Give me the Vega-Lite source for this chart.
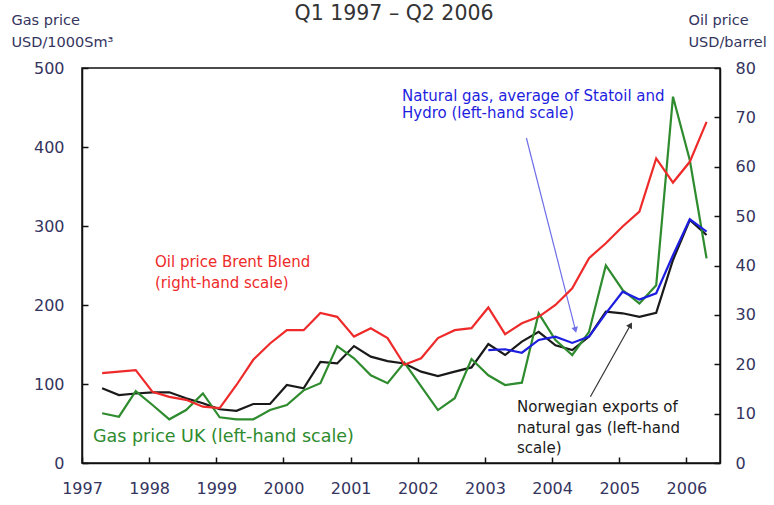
{
  "$schema": "https://vega.github.io/schema/vega-lite/v6.json",
  "width": 638,
  "height": 395,
  "autosize": {"type": "none"},
  "padding": {"left": 82, "top": 68, "right": 54, "bottom": 42},
  "background": "white",
  "config": {
    "view": {"stroke": "#111", "strokeWidth": 1.5},
    "font": "DejaVu Sans",
    "axis": {"labelFont": "DejaVu Sans", "titleFont": "DejaVu Sans", "grid": false}
  },
  "title": {"text": "Q1 1997 – Q2 2006", "fontSize": 20.5, "font": "DejaVu Sans", "fontWeight": "normal", "color": "#333333", "offset": -12, "dx": -7, "anchor": "middle", "frame": "group"},
  "datasets": {
    "lines": [
      {"t":1997.3,"s":"oil","v":18.2},{"t":1997.55,"s":"oil","v":18.5},{"t":1997.8,"s":"oil","v":18.8},{"t":1998.05,"s":"oil","v":14.4},{"t":1998.3,"s":"oil","v":13.4},{"t":1998.55,"s":"oil","v":12.8},{"t":1998.8,"s":"oil","v":11.4},{"t":1999.05,"s":"oil","v":11.1},{"t":1999.3,"s":"oil","v":15.8},{"t":1999.55,"s":"oil","v":20.9},{"t":1999.8,"s":"oil","v":24.2},{"t":2000.05,"s":"oil","v":26.9},{"t":2000.3,"s":"oil","v":26.9},{"t":2000.55,"s":"oil","v":30.4},{"t":2000.8,"s":"oil","v":29.6},{"t":2001.05,"s":"oil","v":25.6},{"t":2001.3,"s":"oil","v":27.3},{"t":2001.55,"s":"oil","v":25.3},{"t":2001.8,"s":"oil","v":19.9},{"t":2002.05,"s":"oil","v":21.2},{"t":2002.3,"s":"oil","v":25.3},{"t":2002.55,"s":"oil","v":26.9},{"t":2002.8,"s":"oil","v":27.3},{"t":2003.05,"s":"oil","v":31.5},{"t":2003.3,"s":"oil","v":26.1},{"t":2003.55,"s":"oil","v":28.3},{"t":2003.8,"s":"oil","v":29.6},{"t":2004.05,"s":"oil","v":32.0},{"t":2004.3,"s":"oil","v":35.4},{"t":2004.55,"s":"oil","v":41.5},{"t":2004.8,"s":"oil","v":44.5},{"t":2005.05,"s":"oil","v":47.9},{"t":2005.3,"s":"oil","v":50.9},{"t":2005.55,"s":"oil","v":61.7},{"t":2005.8,"s":"oil","v":56.8},{"t":2006.05,"s":"oil","v":61.0},{"t":2006.3,"s":"oil","v":69.1},
      {"t":1997.3,"s":"exports","v":94.6},{"t":1997.55,"s":"exports","v":86},{"t":1997.8,"s":"exports","v":88},{"t":1998.05,"s":"exports","v":89.5},{"t":1998.3,"s":"exports","v":89.5},{"t":1998.55,"s":"exports","v":82},{"t":1998.8,"s":"exports","v":75.6},{"t":1999.05,"s":"exports","v":68},{"t":1999.3,"s":"exports","v":66},{"t":1999.55,"s":"exports","v":74.7},{"t":1999.8,"s":"exports","v":74.7},{"t":2000.05,"s":"exports","v":98.7},{"t":2000.3,"s":"exports","v":94.5},{"t":2000.55,"s":"exports","v":128},{"t":2000.8,"s":"exports","v":126},{"t":2001.05,"s":"exports","v":148},{"t":2001.3,"s":"exports","v":134.6},{"t":2001.55,"s":"exports","v":129},{"t":2001.8,"s":"exports","v":126},{"t":2002.05,"s":"exports","v":115.6},{"t":2002.3,"s":"exports","v":110},{"t":2002.55,"s":"exports","v":115.6},{"t":2002.8,"s":"exports","v":121},{"t":2003.05,"s":"exports","v":150.6},{"t":2003.3,"s":"exports","v":136.7},{"t":2003.55,"s":"exports","v":153.6},{"t":2003.8,"s":"exports","v":166},{"t":2004.05,"s":"exports","v":149},{"t":2004.3,"s":"exports","v":143},{"t":2004.55,"s":"exports","v":160},{"t":2004.8,"s":"exports","v":191.5},{"t":2005.05,"s":"exports","v":189.5},{"t":2005.3,"s":"exports","v":185},{"t":2005.55,"s":"exports","v":190},{"t":2005.8,"s":"exports","v":257},{"t":2006.05,"s":"exports","v":307.6},{"t":2006.3,"s":"exports","v":288.6},
      {"t":1997.3,"s":"uk","v":63},{"t":1997.55,"s":"uk","v":58.6},{"t":1997.8,"s":"uk","v":91},{"t":1998.05,"s":"uk","v":73.4},{"t":1998.3,"s":"uk","v":55.3},{"t":1998.55,"s":"uk","v":67},{"t":1998.8,"s":"uk","v":88},{"t":1999.05,"s":"uk","v":57.8},{"t":1999.3,"s":"uk","v":55.3},{"t":1999.55,"s":"uk","v":55.3},{"t":1999.8,"s":"uk","v":67},{"t":2000.05,"s":"uk","v":73.4},{"t":2000.3,"s":"uk","v":92},{"t":2000.55,"s":"uk","v":101},{"t":2000.8,"s":"uk","v":148},{"t":2001.05,"s":"uk","v":132.5},{"t":2001.3,"s":"uk","v":111},{"t":2001.55,"s":"uk","v":101},{"t":2001.8,"s":"uk","v":127},{"t":2002.05,"s":"uk","v":97},{"t":2002.3,"s":"uk","v":67},{"t":2002.55,"s":"uk","v":82},{"t":2002.8,"s":"uk","v":131.6},{"t":2003.05,"s":"uk","v":111},{"t":2003.3,"s":"uk","v":98.7},{"t":2003.55,"s":"uk","v":101.7},{"t":2003.8,"s":"uk","v":189.5},{"t":2004.05,"s":"uk","v":155.7},{"t":2004.3,"s":"uk","v":136.7},{"t":2004.55,"s":"uk","v":166},{"t":2004.8,"s":"uk","v":250},{"t":2005.05,"s":"uk","v":219},{"t":2005.3,"s":"uk","v":202},{"t":2005.55,"s":"uk","v":225},{"t":2005.8,"s":"uk","v":463.7},{"t":2006.05,"s":"uk","v":383.5},{"t":2006.3,"s":"uk","v":259},
      {"t":2003.05,"s":"statoil","v":143},{"t":2003.3,"s":"statoil","v":144},{"t":2003.55,"s":"statoil","v":139.6},{"t":2003.8,"s":"statoil","v":155.7},{"t":2004.05,"s":"statoil","v":160},{"t":2004.3,"s":"statoil","v":152},{"t":2004.55,"s":"statoil","v":160},{"t":2004.8,"s":"statoil","v":189.5},{"t":2005.05,"s":"statoil","v":216.8},{"t":2005.3,"s":"statoil","v":207},{"t":2005.55,"s":"statoil","v":214.8},{"t":2005.8,"s":"statoil","v":263},{"t":2006.05,"s":"statoil","v":308.5},{"t":2006.3,"s":"statoil","v":292.8}
    ],
    "notes": [
      {"s":"oil","t":1998.087,"v":254.8,"txt":"Oil price Brent Blend"},
      {"s":"oil","t":1998.087,"v":228,"txt":"(right-hand scale)"},
      {"s":"uk","t":1997.164,"v":32.9,"txt":"Gas price UK (left-hand scale)"},
      {"s":"statoil","t":2001.765,"v":465,"txt":"Natural gas, average of Statoil and"},
      {"s":"statoil","t":2001.765,"v":442.6,"txt":"Hydro (left-hand scale)"},
      {"s":"exports","t":2003.477,"v":70.4,"txt":"Norwegian exports of"},
      {"s":"exports","t":2003.477,"v":44.7,"txt":"natural gas (left-hand"},
      {"s":"exports","t":2003.477,"v":19.4,"txt":"scale)"}
    ],
    "arrows": [
      {"a":"blue","t0":2003.617,"v0":411.4,"t":2004.347,"v":168.4},
      {"a":"black","t0":2004.57,"v0":83.9,"t":2005.167,"v":174.7}
    ]
  },
  "encoding": {
    "x": {"field": "t", "type": "quantitative", "title": null, "scale": {"domain": [1997, 2006.5], "nice": false, "zero": false},
      "axis": {"values": [1997,1998,1999,2000,2001,2002,2003,2004,2005,2006], "format": "d", "title": null, "labelFlush": false, "labelOverlap": false, "labelFontSize": 16, "labelColor": "#34345e", "labelPadding": 23, "tickSize": -6, "tickColor": "#111", "tickWidth": 1.5, "domainColor": "#111", "domainWidth": 1.5}}
  },
  "layer": [
    {
      "encoding": {
        "y": {"field": "v", "type": "quantitative", "scale": {"domain": [0, 500], "nice": false},
          "axis": {"values": [0,100,200,300,400,500], "title": ["Gas price", "USD/1000Sm³"], "titleAngle": 0, "titleAlign": "left", "titleBaseline": "top", "titleX": -71, "titleY": -55, "titleFontSize": 14.5, "titleFontWeight": "normal", "titleColor": "#34345e", "titleLineHeight": 22, "labelFontSize": 16, "labelColor": "#34345e", "labelPadding": 24, "tickSize": -6, "tickColor": "#111", "tickWidth": 1.5, "domainColor": "#111", "domainWidth": 1.5}}
      },
      "layer": [
        {
          "data": {"name": "lines"},
          "transform": [{"filter": "datum.s !== 'oil'"}],
          "mark": {"type": "line", "strokeWidth": 2.2},
          "encoding": {
            "color": {"field": "s", "type": "nominal", "legend": null,
              "scale": {"domain": ["exports", "uk", "oil", "statoil"], "range": ["#1a1a1a", "#2e8b2e", "#ee2a2a", "#1e1ee0"]}}
          }
        },
        {
          "data": {"name": "notes"},
          "transform": [{"filter": "datum.s === 'oil'"}],
          "mark": {"type": "text", "align": "left", "baseline": "middle", "fontSize": 15, "font": "DejaVu Sans"},
          "encoding": {
            "text": {"field": "txt"},
            "color": {"field": "s", "type": "nominal", "legend": null}
          }
        },
        {
          "data": {"name": "notes"},
          "transform": [{"filter": "datum.s === 'uk'"}],
          "mark": {"type": "text", "align": "left", "baseline": "middle", "fontSize": 17.5, "font": "DejaVu Sans"},
          "encoding": {
            "text": {"field": "txt"},
            "color": {"field": "s", "type": "nominal", "legend": null}
          }
        },
        {
          "data": {"name": "notes"},
          "transform": [{"filter": "datum.s === 'statoil'"}],
          "mark": {"type": "text", "align": "left", "baseline": "middle", "fontSize": 15, "font": "DejaVu Sans"},
          "encoding": {
            "text": {"field": "txt"},
            "color": {"field": "s", "type": "nominal", "legend": null}
          }
        },
        {
          "data": {"name": "notes"},
          "transform": [{"filter": "datum.s === 'exports'"}],
          "mark": {"type": "text", "align": "left", "baseline": "middle", "fontSize": 15, "font": "DejaVu Sans"},
          "encoding": {
            "text": {"field": "txt"},
            "color": {"field": "s", "type": "nominal", "legend": null}
          }
        },
        {
          "data": {"name": "arrows"},
          "transform": [{"filter": "datum.a === 'blue'"}],
          "mark": {"type": "rule", "color": "#6f6fe8", "strokeWidth": 1.2},
          "encoding": {
            "x2": {"field": "t0"},
            "y2": {"field": "v0"}
          }
        },
        {
          "data": {"name": "arrows"},
          "transform": [{"filter": "datum.a === 'blue'"}],
          "mark": {"type": "point", "shape": "triangle-down", "filled": true, "color": "#6f6fe8", "size": 45, "angle": -14, "opacity": 1},
          "encoding": {}
        },
        {
          "data": {"name": "arrows"},
          "transform": [{"filter": "datum.a === 'black'"}],
          "mark": {"type": "rule", "color": "#333333", "strokeWidth": 1.2},
          "encoding": {
            "x2": {"field": "t0"},
            "y2": {"field": "v0"}
          }
        },
        {
          "data": {"name": "arrows"},
          "transform": [{"filter": "datum.a === 'black'"}],
          "mark": {"type": "point", "shape": "triangle-up", "filled": true, "color": "#333333", "size": 45, "angle": 30, "opacity": 1},
          "encoding": {}
        }
      ]
    },
    {
      "data": {"name": "lines"},
      "transform": [{"filter": "datum.s === 'oil'"}],
      "mark": {"type": "line", "strokeWidth": 2.2},
      "encoding": {
        "y": {"field": "v", "type": "quantitative", "scale": {"domain": [0, 80], "nice": false},
          "axis": {"orient": "right", "values": [0,10,20,30,40,50,60,70,80], "title": ["Oil price", "USD/barrel"], "titleAngle": 0, "titleAlign": "left", "titleBaseline": "top", "titleX": -32, "titleY": -55, "titleFontSize": 14.5, "titleFontWeight": "normal", "titleColor": "#34345e", "titleLineHeight": 22, "labelFontSize": 16, "labelColor": "#34345e", "labelPadding": 21, "tickSize": -6, "tickColor": "#111", "tickWidth": 1.5, "domainColor": "#111", "domainWidth": 1.5}},
        "color": {"field": "s", "type": "nominal", "legend": null}
      }
    }
  ],
  "resolve": {"scale": {"y": "independent"}}
}
